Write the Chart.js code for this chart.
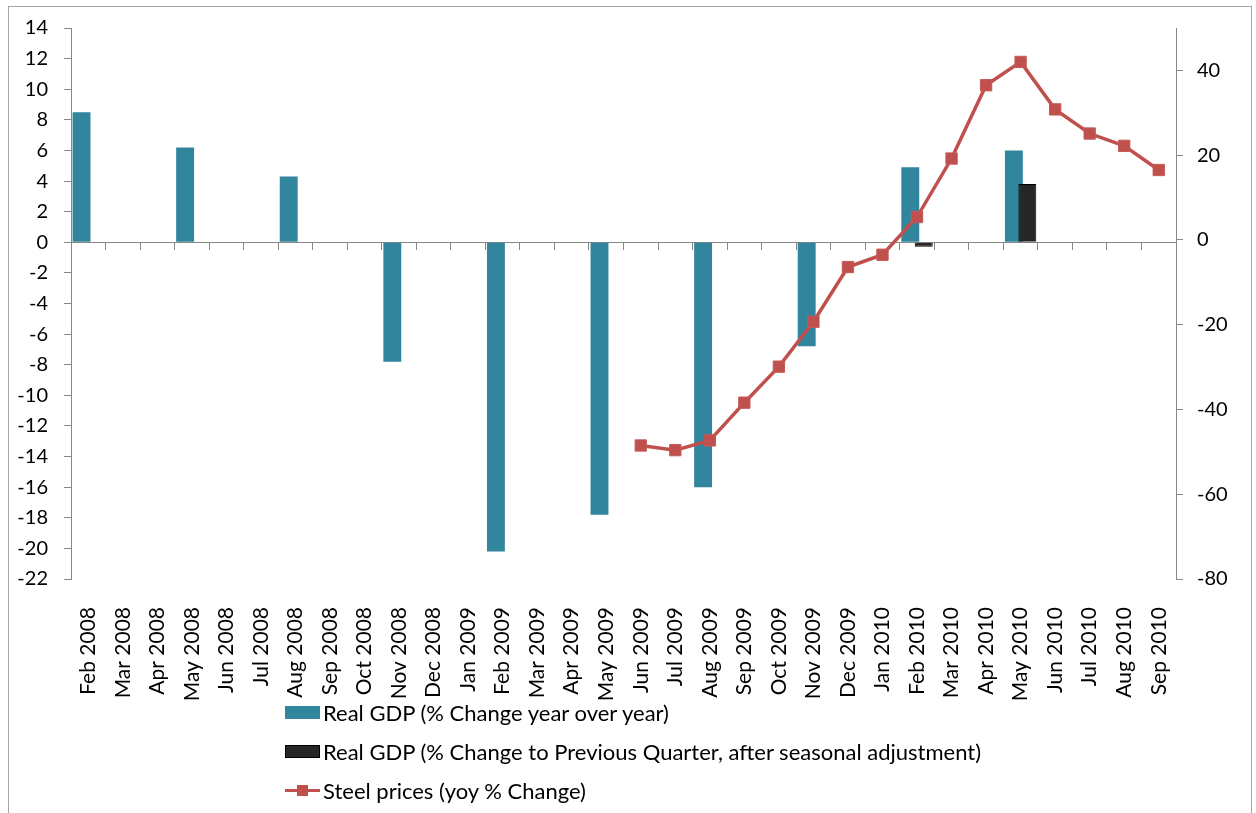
<!DOCTYPE html>
<html>
<head>
<meta charset="utf-8">
<title>Real GDP and steel prices</title>
<script src="https://cdn.jsdelivr.net/npm/chart.js@4/dist/chart.umd.min.js"></script>
<style>
  html, body { margin: 0; padding: 0; background: #fff; overflow: hidden; }
  #frame { position: absolute; left: 8px; top: 6px; width: 1242px; height: 830px; border: 1px solid #a6a6a6; }
  #chart { position: absolute; left: 0; top: 0; }
  #legend { position: absolute; left: 285px; top: 693px; font-family: Lato, sans-serif; font-size: 22px; color: #000; }
  #legend .item { display: flex; align-items: center; height: 39px; white-space: nowrap; }
  #legend .key { position: relative; display: inline-block; width: 35px; height: 13px; margin-right: 3px; box-sizing: border-box; flex: none; }
  #legend .key .stroke { position: absolute; left: 0; right: 0; top: 5px; height: 3px; }
  #legend .key .marker { position: absolute; left: 12px; top: 1px; width: 11px; height: 11px; }
</style>
</head>
<body>
<div id="frame"></div>
<canvas id="chart" width="1256" height="813"></canvas>
<div id="legend"></div>
<script>
// Monthly categories, Feb 2008 – Sep 2010
const months = [
  'Feb 2008', 'Mar 2008', 'Apr 2008', 'May 2008', 'Jun 2008', 'Jul 2008', 'Aug 2008', 'Sep 2008',
  'Oct 2008', 'Nov 2008', 'Dec 2008', 'Jan 2009', 'Feb 2009', 'Mar 2009', 'Apr 2009', 'May 2009',
  'Jun 2009', 'Jul 2009', 'Aug 2009', 'Sep 2009', 'Oct 2009', 'Nov 2009', 'Dec 2009', 'Jan 2010',
  'Feb 2010', 'Mar 2010', 'Apr 2010', 'May 2010', 'Jun 2010', 'Jul 2010', 'Aug 2010', 'Sep 2010'
];

// Quarterly real GDP, % change year over year (left axis)
const gdpYoY = [
  8.5, null, null, 6.2, null, null, 4.3, null,
  null, -7.8, null, null, -20.2, null, null, -17.8,
  null, null, -16.0, null, null, -6.8, null, null,
  4.9, null, null, 6.0, null, null, null, null
];

// Quarterly real GDP, % change to previous quarter, seasonally adjusted (left axis)
const gdpQoQ = [
  null, null, null, null, null, null, null, null,
  null, null, null, null, null, null, null, null,
  null, null, null, null, null, null, null, null,
  -0.3, null, null, 3.8, null, null, null, null
];

// Monthly steel prices, year-over-year % change (right axis)
const steelYoY = [
  null, null, null, null, null, null, null, null,
  null, null, null, null, null, null, null, null,
  -48.5, -49.6, -47.3, -38.4, -29.9, -19.3, -6.4, -3.5,
  5.4, 19.2, 36.5, 42.0, 30.8, 25.1, 22.2, 16.5
];

const seriesNames = [
  'Real GDP (% Change year over year)',
  'Real GDP (% Change to Previous Quarter, after seasonal adjustment)',
  'Steel prices (yoy % Change)'
];

const AXIS_GREY = '#868686';
const TEAL = '#31859c';
const DARK = '#262626';
const RED = '#c0504d';

Chart.defaults.font.family = 'Lato, sans-serif';
Chart.defaults.font.size = 20;
Chart.defaults.color = '#000';

// The quarter-on-quarter bar sits over its year-on-year neighbour
const barLayering = {
  id: 'barLayering',
  beforeDatasetDraw(chart, args) {
    if (args.index === 1) return false;
  },
  afterDatasetDraw(chart, args) {
    if (args.index === 0) chart.getDatasetMeta(1).controller.draw();
  }
};

// Legend rows stacked one per line under the axis labels, in dataset order
const htmlLegend = {
  id: 'htmlLegend',
  afterUpdate(chart) {
    const box = document.getElementById('legend');
    box.innerHTML = '';
    const items = Chart.defaults.plugins.legend.labels.generateLabels(chart)
      .sort((a, b) => a.datasetIndex - b.datasetIndex);
    items.forEach(item => {
      const ds = chart.data.datasets[item.datasetIndex];
      const row = document.createElement('div');
      row.className = 'item';
      const key = document.createElement('span');
      key.className = 'key';
      if (ds.type === 'line') {
        const stroke = document.createElement('span');
        stroke.className = 'stroke';
        stroke.style.background = ds.borderColor;
        const marker = document.createElement('span');
        marker.className = 'marker';
        marker.style.background = ds.pointBackgroundColor;
        key.appendChild(stroke);
        key.appendChild(marker);
      } else {
        key.style.background = item.fillStyle;
        if (item.lineWidth) key.style.border = item.lineWidth + 'px solid ' + item.strokeStyle;
      }
      const text = document.createElement('span');
      text.textContent = item.text;
      row.appendChild(key);
      row.appendChild(text);
      box.appendChild(row);
    });
  }
};

const greyTickGrid = {
  drawOnChartArea: false,
  drawTicks: true,
  tickLength: 7,
  color: AXIS_GREY
};

new Chart(document.getElementById('chart'), {
  type: 'bar',
  data: {
    labels: months,
    datasets: [
      {
        label: seriesNames[0],
        data: gdpYoY,
        backgroundColor: TEAL,
        borderWidth: 0,
        categoryPercentage: 0.78,
        barPercentage: 1.33,
        yAxisID: 'y',
        order: 1
      },
      {
        label: seriesNames[1],
        data: gdpQoQ,
        backgroundColor: DARK,
        borderColor: '#000',
        borderWidth: 1,
        categoryPercentage: 0.78,
        barPercentage: 1.33,
        yAxisID: 'y',
        order: 1
      },
      {
        type: 'line',
        label: seriesNames[2],
        data: steelYoY,
        yAxisID: 'y1',
        borderColor: RED,
        backgroundColor: RED,
        borderWidth: 3.5,
        tension: 0,
        pointStyle: 'rect',
        pointRadius: 8,
        pointBackgroundColor: RED,
        pointBorderColor: '#c65a57',
        pointBorderWidth: 1,
        order: 0
      }
    ]
  },
  options: {
    responsive: false,
    animation: false,
    layout: { padding: { top: 28, left: 0, right: 0, bottom: 0 } },
    plugins: {
      legend: { display: false },
      tooltip: { enabled: false }
    },
    scales: {
      x: {
        type: 'category',
        position: 'bottom',
        offset: true,
        grid: { display: false, offset: true },
        border: { display: false },
        ticks: { autoSkip: false, minRotation: 90, maxRotation: 90, padding: 20, font: { size: 21 } },
        afterFit(scale) { scale.height = 234; }
      },
      x2: {
        type: 'category',
        position: { y: 0 },
        offset: true,
        grid: Object.assign({ offset: true }, greyTickGrid),
        border: { display: true, color: AXIS_GREY, width: 1 },
        ticks: { display: false }
      },
      y: {
        position: 'left',
        min: -22,
        max: 14,
        ticks: { stepSize: 2, padding: 16 },
        grid: greyTickGrid,
        border: { color: AXIS_GREY },
        afterFit(scale) { scale.width = 71; }
      },
      y1: {
        position: 'right',
        min: -80,
        max: 50,
        ticks: { stepSize: 20, padding: 14 },
        afterBuildTicks(scale) { scale.ticks = scale.ticks.filter(t => t.value <= 40); },
        grid: greyTickGrid,
        border: { color: AXIS_GREY },
        afterFit(scale) { scale.width = 80; }
      }
    }
  },
  plugins: [barLayering, htmlLegend]
});
</script>
</body>
</html>
